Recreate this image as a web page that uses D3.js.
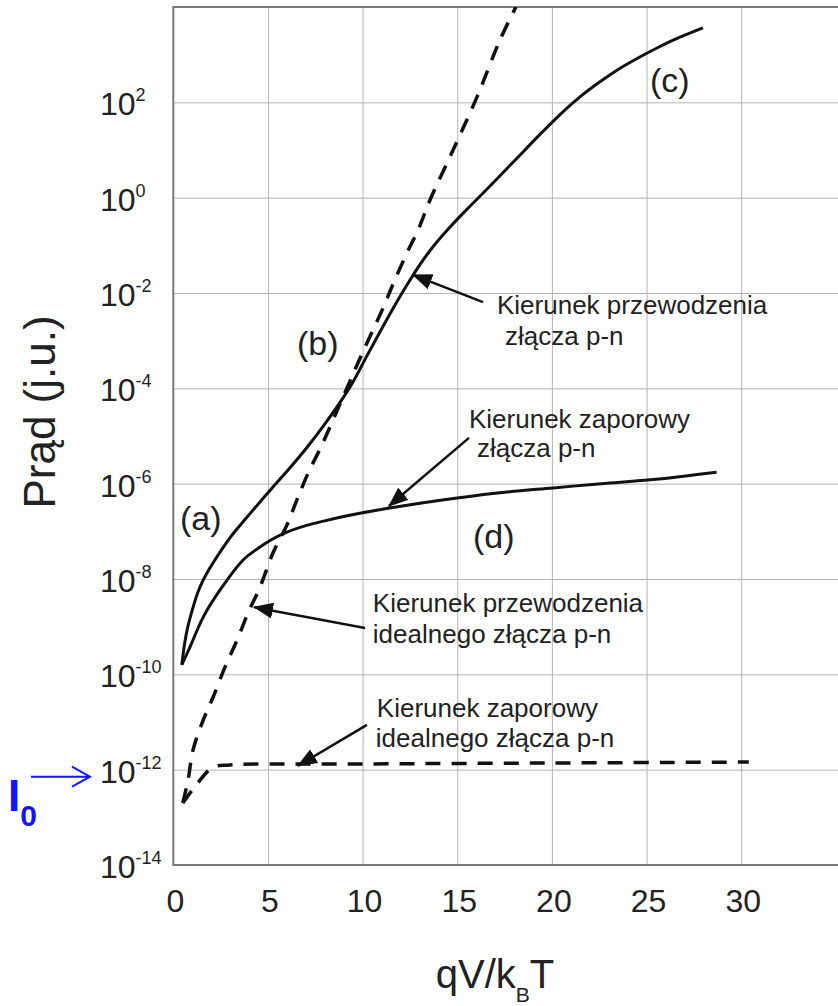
<!DOCTYPE html>
<html>
<head>
<meta charset="utf-8">
<script src="https://cdn.jsdelivr.net/npm/d3@7"></script>
<style>
  body { margin: 0; background: #fff; }
  svg { display: block; font-family: "Liberation Sans", Arial, sans-serif; }
</style>
</head>
<body>
<div id="chart"></div>
<script>
// axis ticks
var xTicks = [0, 5, 10, 15, 20, 25, 30];
var yExponents = [-14, -12, -10, -8, -6, -4, -2, 0, 2];

// series: [qV/kT, log10(I)]
var realForward = [
  [0.45, -9.8], [0.6, -9.35], [0.75, -9.03], [1.04, -8.6], [1.3, -8.28],
  [1.57, -8.03], [1.9, -7.79], [2.2, -7.6], [2.7, -7.3], [3.1, -7.08],
  [3.6, -6.84], [4.2, -6.56], [5.2, -6.1], [6.2, -5.65], [7.1, -5.22],
  [8.0, -4.75], [8.8, -4.3], [9.5, -3.86], [10.2, -3.34], [10.9, -2.83],
  [11.6, -2.33], [12.3, -1.86], [13.0, -1.42], [13.7, -1.04], [14.5, -0.67],
  [15.3, -0.33], [16.5, 0.15], [17.5, 0.56], [18.5, 0.97], [19.5, 1.38],
  [20.5, 1.77], [21.5, 2.12], [22.5, 2.42], [23.5, 2.69], [24.5, 2.92],
  [25.5, 3.13], [26.5, 3.32], [27.98, 3.56]
];
var realReverse = [
  [0.45, -9.8], [0.88, -9.43], [1.58, -8.8], [2.47, -8.23], [3.69, -7.6],
  [4.5, -7.35], [5.2, -7.17], [6.1, -7.0], [7.0, -6.88], [8.0, -6.78],
  [9.0, -6.69], [10.0, -6.61], [11.6, -6.5], [13.03, -6.41], [15.0, -6.3],
  [17.5, -6.18], [20.06, -6.09], [22.6, -6.0], [25.2, -5.92], [28.7, -5.76]
];
var idealForward = [
  [0.5, -12.7], [0.78, -12.22], [1.04, -11.59], [1.58, -10.96], [2.1, -10.48],
  [2.73, -9.85], [3.37, -9.28], [3.95, -8.71], [4.58, -8.17], [5.27, -7.45],
  [6.0, -6.87], [6.53, -6.34], [7.12, -5.78], [7.85, -5.19], [9.0, -4.15],
  [10.0, -3.25], [11.03, -2.36], [11.55, -1.87], [12.34, -1.16], [12.93, -0.68],
  [13.56, -0.05], [14.78, 1.0], [16.04, 2.11], [17.26, 3.31], [18.1, 4.0]
];
var idealReverse = [
  [0.5, -12.7], [1.25, -12.3], [2.1, -11.95], [3.0, -11.9], [10.0, -11.88],
  [20.0, -11.86], [30.4, -11.84]
];

// annotations: arrows [from, to] and labels, in data units
var arrows = [
  [[16.36, -2.19], [12.66, -1.62]],
  [[15.62, -5.04], [11.39, -6.47]],
  [[10.13, -9.03], [4.26, -8.59]],
  [[10.23, -11.06], [6.58, -11.92]]
];
var notes = [
  { v: 17.1, L: -2.44, lines: ["Kierunek przewodzenia", "złącza p-n"], indent: 8, gap: 31 },
  { v: 15.62, L: -4.83, lines: ["Kierunek zaporowy", "złącza p-n"], indent: 8, gap: 29 },
  { v: 10.54, L: -8.69, lines: ["Kierunek przewodzenia", "idealnego złącza p-n"], indent: 0, gap: 31 },
  { v: 10.75, L: -10.9, lines: ["Kierunek zaporowy", "idealnego złącza p-n"], indent: -1, gap: 30 }
];
var letters = [
  { v: 0.35, L: -6.97, t: "(a)" },
  { v: 6.53, L: -3.3, t: "(b)" },
  { v: 25.18, L: 2.22, t: "(c)" },
  { v: 15.83, L: -7.35, t: "(d)" }
];

var W = 838, H = 1006;
var plotLeft = 173.3, plotTop = 7, plotBottom = 865;

var svg = d3.select("#chart").append("svg")
  .attr("width", W)
  .attr("height", H);

var x = d3.scaleLinear().domain([0, 35.5]).range([plotLeft, plotLeft + 35.5 * 18.93]);
var y = d3.scaleLog().domain([1e-14, 1e4]).range([plotBottom, plotTop]);
var plotRight = x.range()[1];

function py(L) { return y(Math.pow(10, L)); }

// grid
svg.append("g")
  .attr("transform", "translate(0," + plotBottom + ")")
  .call(d3.axisBottom(x).tickValues(xTicks.slice(1)).tickSize(-(plotBottom - plotTop)).tickFormat(""))
  .call(g => g.select(".domain").remove())
  .selectAll("line").attr("stroke", "#b4b4b4").attr("stroke-width", 1);

svg.append("g")
  .attr("transform", "translate(" + plotLeft + ",0)")
  .call(d3.axisLeft(y).tickValues(yExponents.slice(1).map(e => Math.pow(10, e))).tickSize(-(plotRight - plotLeft)).tickFormat(""))
  .call(g => g.select(".domain").remove())
  .selectAll("line").attr("stroke", "#b4b4b4").attr("stroke-width", 1);

// frame
svg.append("path")
  .attr("d", "M" + plotRight + "," + plotTop + "H" + plotLeft + "V" + plotBottom + "H" + plotRight)
  .attr("fill", "none")
  .attr("stroke", "#7a7a7a")
  .attr("stroke-width", 2);

// clip
svg.append("clipPath").attr("id", "plot")
  .append("rect").attr("x", plotLeft).attr("y", plotTop).attr("width", plotRight - plotLeft).attr("height", plotBottom - plotTop);

var line = d3.line()
  .x(d => x(d[0]))
  .y(d => py(d[1]))
  .curve(d3.curveCatmullRom.alpha(0.5));

var curves = svg.append("g").attr("clip-path", "url(#plot)");

curves.selectAll(".solid")
  .data([realForward, realReverse])
  .join("path")
  .attr("class", "solid")
  .attr("fill", "none")
  .attr("stroke", "#111")
  .attr("stroke-width", 3)
  .attr("stroke-linejoin", "round")
  .attr("d", line);

curves.selectAll(".dashed")
  .data([idealForward, idealReverse])
  .join("path")
  .attr("class", "dashed")
  .attr("fill", "none")
  .attr("stroke", "#111")
  .attr("stroke-width", 3.5)
  .attr("stroke-dasharray", "15,11")
  .attr("d", line);

// arrow heads
svg.append("defs").append("marker")
  .attr("id", "head")
  .attr("viewBox", "0 0 20 16")
  .attr("refX", 19)
  .attr("refY", 8)
  .attr("markerWidth", 20)
  .attr("markerHeight", 16)
  .attr("markerUnits", "userSpaceOnUse")
  .attr("orient", "auto")
  .append("path")
  .attr("d", "M0,0L20,8L0,16Z")
  .attr("fill", "#111");

svg.selectAll(".arrow")
  .data(arrows)
  .join("line")
  .attr("class", "arrow")
  .attr("x1", d => x(d[0][0]))
  .attr("y1", d => py(d[0][1]))
  .attr("x2", d => x(d[1][0]))
  .attr("y2", d => py(d[1][1]))
  .attr("stroke", "#111")
  .attr("stroke-width", 2.5)
  .attr("marker-end", "url(#head)");

// annotation texts
var note = svg.selectAll(".note")
  .data(notes)
  .join("text")
  .attr("class", "note")
  .attr("font-size", 26)
  .attr("fill", "#222");

note.append("tspan")
  .attr("x", d => x(d.v))
  .attr("y", d => py(d.L))
  .text(d => d.lines[0]);

note.append("tspan")
  .attr("x", d => x(d.v) + d.indent)
  .attr("y", d => py(d.L) + d.gap)
  .text(d => d.lines[1]);

svg.selectAll(".letter")
  .data(letters)
  .join("text")
  .attr("class", "letter")
  .attr("x", d => x(d.v))
  .attr("y", d => py(d.L))
  .attr("font-size", 34)
  .attr("fill", "#222")
  .text(d => d.t);

// y tick labels 10^n
var ylab = svg.selectAll(".ylab")
  .data(yExponents)
  .join("text")
  .attr("class", "ylab")
  .attr("x", 100)
  .attr("y", d => py(d) + 13)
  .attr("fill", "#222")
  .attr("font-size", 32);

ylab.append("tspan").text("10");
ylab.append("tspan")
  .attr("font-size", 18)
  .attr("dy", -14)
  .text(d => d === 0 ? "0" : d > 0 ? String(d) : "-" + Math.abs(d));

// x tick labels
svg.selectAll(".xlab")
  .data(xTicks)
  .join("text")
  .attr("class", "xlab")
  .attr("x", d => x(d) + 2)
  .attr("y", 912)
  .attr("text-anchor", "middle")
  .attr("font-size", 32)
  .attr("fill", "#222")
  .text(d => d);

// axis titles
var xt = svg.append("text")
  .attr("x", 495)
  .attr("y", 988)
  .attr("text-anchor", "middle")
  .attr("font-size", 40)
  .attr("fill", "#222");
xt.append("tspan").text("qV/k");
xt.append("tspan").attr("font-size", 21).attr("dy", 14).text("B");
xt.append("tspan").attr("dy", -14).text("T");

svg.append("text")
  .attr("transform", "translate(55,412) rotate(-90)")
  .attr("text-anchor", "middle")
  .attr("font-size", 44)
  .attr("fill", "#222")
  .text("Prąd (j.u.)");

// I0 marker
var blue = "#1414ff";
var i0 = py(-12);
svg.append("path")
  .attr("d", "M31," + (i0 + 7) + "H90M72," + (i0 - 3) + "L90," + (i0 + 7) + "L72," + (i0 + 17))
  .attr("fill", "none")
  .attr("stroke", blue)
  .attr("stroke-width", 2);

var i0t = svg.append("text")
  .attr("x", 8)
  .attr("y", i0 + 41)
  .attr("font-size", 44)
  .attr("font-weight", "bold")
  .attr("fill", blue);
i0t.append("tspan").text("I");
i0t.append("tspan").attr("font-size", 30).attr("dy", 15).text("0");
</script>
</body>
</html>
